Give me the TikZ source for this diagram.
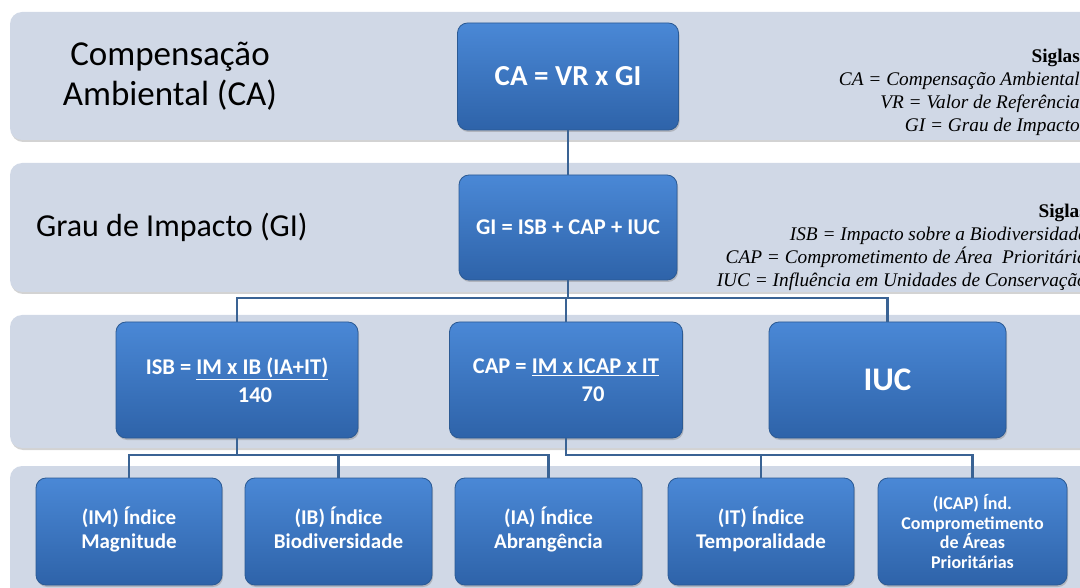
\documentclass[tikz,border=0pt]{standalone}
\usepackage{fontspec}
\setmainfont{Carlito}
\newfontfamily\legfont{Liberation Serif}
\usetikzlibrary{shadows,calc}
\definecolor{bandc}{HTML}{D0D8E6}
\definecolor{boxtop}{HTML}{4A88D6}
\definecolor{boxbot}{HTML}{2E63A9}
\definecolor{boxedge}{HTML}{2B5A94}
\definecolor{linec}{HTML}{3A6394}
\tikzset{
  band/.style={fill=bandc, rounded corners=12pt, drop shadow={shadow xshift=1pt, shadow yshift=-2pt, opacity=0.35}},
  bluebox/.style={draw=boxedge, line width=0.8pt, rounded corners=10pt, top color=boxtop, bottom color=boxbot,
     text=white, font=\bfseries, align=center, inner sep=2pt,
     drop shadow={shadow xshift=1pt, shadow yshift=-2pt, opacity=0.4}},
  conn/.style={draw=linec, line width=2.4pt},
  lbl/.style={align=center, text=black},
  leg/.style={anchor=north east, align=right, font=\legfont\itshape\fontsize{19.3}{23}\selectfont, inner sep=0pt},
  midf/.style={font=\bfseries\fontsize{22.5}{28}\selectfont},
  lowf/.style={font=\bfseries\fontsize{21}{24}\selectfont}
}
\begin{document}
\begin{tikzpicture}[x=1pt,y=-1pt]
\useasboundingbox (0,0) rectangle (1080,588);
% bands
\path[band] (10,12) rectangle (1100,140);
\path[band] (10,163) rectangle (1100,292);
\path[band] (10,315) rectangle (1100,448);
\path[band] (10,466) rectangle (1100,610);
% left labels
\node[lbl, font=\fontsize{35}{40}\selectfont] (lblCA) at (170,76) {Compensação\\Ambiental (CA)};
\node[lbl, font=\fontsize{32}{36}\selectfont, anchor=west, inner sep=0pt] (lblGI) at (36,227) {Grau de Impacto (GI)};
% legends
\node[leg] (leg1) at (1080,49) {{\bfseries\upshape Siglas}\\CA = Compensação Ambiental\\VR = Valor de Referência\\GI = Grau de Impacto};
\node[leg] (leg2) at (1087,204) {{\bfseries\upshape Siglas}\\ISB = Impacto sobre a Biodiversidade\\CAP = Comprometimento de Área\ \ Prioritária\\IUC = Influência em Unidades de Conservação};
% boxes
\node[bluebox, minimum width=221pt, minimum height=107pt, font=\bfseries\fontsize{29}{32}\selectfont] (CA) at (568,76.5) {CA = VR x GI};
\node[bluebox, minimum width=218pt, minimum height=105pt, midf] (GI) at (568,227.5) {GI = ISB + CAP + IUC};
\node[bluebox, minimum width=242pt, minimum height=116pt, midf] (ISB) at (237,380) {ISB = \underline{IM x IB (IA+IT)}\\\hspace*{36pt}140};
\node[bluebox, minimum width=233pt, minimum height=116pt, midf] (CAP) at (566,380) {CAP = \underline{IM x ICAP x IT}\\\hspace*{54pt}70};
\node[bluebox, minimum width=237pt, minimum height=116pt, font=\bfseries\fontsize{33}{38}\selectfont] (IUC) at (887.5,380) {IUC};
\node[bluebox, minimum width=186pt, minimum height=107pt, lowf] (IM) at (129,531.5) {(IM) Índice\strut\\Magnitude\strut};
\node[bluebox, minimum width=187pt, minimum height=107pt, lowf] (IB) at (338.5,531.5) {(IB) Índice\strut\\Biodiversidade\strut};
\node[bluebox, minimum width=187pt, minimum height=107pt, lowf] (IA) at (548.5,531.5) {(IA) Índice\strut\\Abrangência\strut};
\node[bluebox, minimum width=186pt, minimum height=107pt, lowf] (IT) at (761,531.5) {(IT) Índice\strut\\Temporalidade\strut};
\node[bluebox, minimum width=189pt, minimum height=107pt, font=\bfseries\fontsize{18}{19.5}\selectfont] (ICAP) at (972.5,531.5) {(ICAP) Índ.\\Comprometimento\\de Áreas\\Prioritárias};
% connectors
\coordinate (h1) at (568,298);
\coordinate (h2) at (0,455);
\draw[conn] (CA.south) -- (GI.north);
\draw[conn] (GI.south) -- (GI.south |- h1) -| (CAP.north);
\draw[conn] (h1) -| (ISB.north);
\draw[conn] (h1) -| (IUC.north);
\draw[conn] (ISB.south) -- (ISB.south |- h2) -| (IM.north);
\draw[conn] (ISB.south |- h2) -| (IB.north);
\draw[conn] (ISB.south |- h2) -| (IA.north);
\draw[conn] (CAP.south) -- (CAP.south |- h2) -| (IT.north);
\draw[conn] (CAP.south |- h2) -| (ICAP.north);
\end{tikzpicture}
\end{document}
